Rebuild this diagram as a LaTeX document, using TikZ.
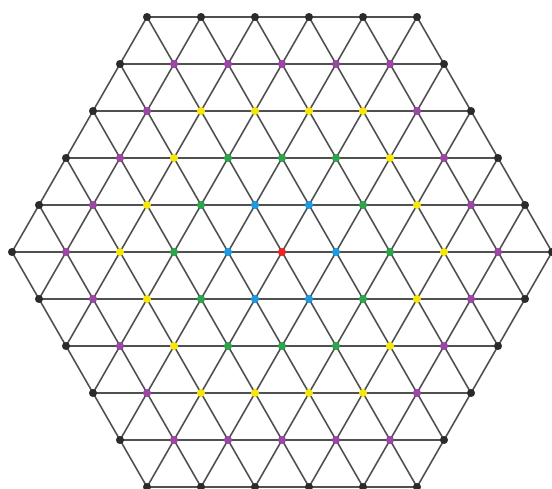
\documentclass[tikz,border=0pt]{standalone}
\usetikzlibrary{backgrounds}
\definecolor{ring0}{HTML}{EE2424}
\definecolor{ring1}{HTML}{1C9BE4}
\definecolor{ring2}{HTML}{2BA64B}
\definecolor{ring3}{HTML}{F6E60A}
\definecolor{ring4}{HTML}{9C46A6}
\definecolor{ring5}{HTML}{2B2B2B}
\definecolor{linegray}{HTML}{505050}

\begin{document}
\begin{tikzpicture}[x=0.02cm,y=-0.02cm,
  dot/.style={circle,inner sep=0pt,minimum size=4.6pt},
  edge/.style={draw=linegray,line width=0.9pt}]
\useasboundingbox (0,0) rectangle (552,489);
% lattice points, coloured by ring
\foreach \q in {-5,...,5}{
  \foreach \r in {-5,...,5}{
    \pgfmathtruncatemacro\ring{max(abs(\q),abs(\r),abs(\q+\r))}
    \ifnum\ring<6
      \node[dot,fill=ring\ring] (n\q_\r) at ({282+54*(\q+0.5*\r)},{252+47*\r}) {};
    \fi
  }
}
% edges behind the points
\begin{scope}[on background layer]
\foreach \q in {-5,...,5}{
  \foreach \r in {-5,...,5}{
    \pgfmathtruncatemacro\ring{max(abs(\q),abs(\r),abs(\q+\r))}
    \foreach \dq/\dr in {1/0,0/1,-1/1}{
      \pgfmathtruncatemacro\qn{\q+\dq}
      \pgfmathtruncatemacro\rn{\r+\dr}
      \pgfmathtruncatemacro\rb{max(abs(\qn),abs(\rn),abs(\qn+\rn))}
      \ifnum\ring<6 \ifnum\rb<6
        \draw[edge] (n\q_\r.center) -- (n\qn_\rn.center);
      \fi\fi
    }
  }
}
\end{scope}
\end{tikzpicture}
\end{document}
